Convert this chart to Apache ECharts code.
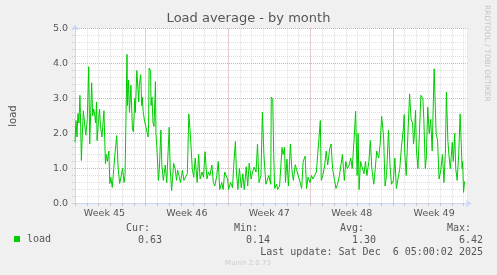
<!DOCTYPE html>
<html>
<head>
<meta charset="utf-8">
<script src="https://cdn.jsdelivr.net/npm/echarts@6/dist/echarts.min.js"></script>
<style>
html,body{margin:0;padding:0;background:#f0f0f0;}
#chart{width:497px;height:275px;}
</style>
</head>
<body>
<div id="chart"></div>
<script>
// Time in hours since Mon Nov 3 2025 00:00, load values
const hours = [24,26,28,30,32,34,35,37,39,41,43,46,49,52,54,56,58,60,62,64,66,68,69,72,74,76,79,83,86,88,90,93,95,97,100,103,106,109,112,115,118,121,124,126,
130,131,133,135,138,141,143,146,147,150,153,154,155,158,160,161,163,166,169,173,174,175,178,179,181,183,185,188,189,191,194,196,199,201,204,208,211,216,218,221,225,228,231,233,236,239,243,246,249,253,
256,259,263,266,269,273,276,279,283,286,289,293,296,299,303,306,309,313,316,319,323,326,329,333,335,337,341,345,348,351,353,356,359,363,366,369,373,376,379,383,386,389,393,396,399,403,
406,409,413,416,419,423,424,427,429,431,435,437,441,443,446,448,451,453,456,459,463,466,469,473,476,479,483,486,489,493,496,499,503,506,509,513,516,519,524,526,529,533,536,539,543,546,549,553,556,559,563,566,569,573,576,579,583,586,589,593,596,599,601,603,606,609,613,616,619,623,626,629,633,636,639,643,646,649,653,656,659,663,666,669,
673,676,679,683,686,689,693,695,696,699,703,706,708,709,712,714,716,718,720,723,726,729,733,735,738,740,743,746,749,752,756,758,760,763,766,769,773,776,779,781,784,786,789,793,795,798,800,803,806,809,813,814,816,818];
const load = [1.75,2.37,1.9,2.57,2.3,3.09,2.6,1.23,2.0,2.65,2.7,1.95,2.4,3.91,1.7,2.6,3.45,2.5,2.7,2.55,2.3,2.9,1.8,2.4,2.7,2.2,1.9,2.65,1.14,1.4,1.2,1.5,0.57,0.75,0.46,1.0,1.5,1.94,1.0,0.57,0.6,1.0,0.6,0.8,
4.26,2.8,3.53,2.6,3.38,2.13,2.05,3.0,2.6,3.8,3.75,2.9,3.37,3.68,2.8,3.04,2.62,2.34,2.3,1.9,2.3,3.87,3.8,2.8,3.04,2.3,2.2,3.48,2.0,1.57,0.66,1.0,2.1,1.1,0.66,1.1,0.6,2.18,1.0,0.37,1.15,1.0,0.66,0.95,0.8,0.6,0.95,0.66,0.7,0.85,
2.56,2.0,1.0,0.75,1.3,0.6,1.4,0.7,0.9,0.75,1.48,0.7,0.9,0.8,1.1,0.6,0.5,0.8,1.2,0.4,0.6,0.4,0.9,0.85,0.7,0.4,0.6,0.45,1.2,1.77,0.9,0.4,1.0,0.45,0.85,0.4,1.05,0.5,1.15,0.7,0.9,1.04,0.9,1.7,0.6,0.8,
2.61,1.4,0.55,0.5,0.8,0.55,3.04,2.98,1.4,0.43,0.55,0.4,0.5,0.45,1.6,1.4,1.6,0.6,1.27,0.5,1.7,0.97,0.66,1.11,0.95,0.9,0.6,0.43,1.2,1.35,0.43,0.75,0.6,0.8,0.7,0.66,0.9,0.95,2.37,0.66,0.8,1.1,1.5,1.1,1.56,1.7,1.0,0.66,0.43,0.55,0.8,0.8,1.4,0.66,1.2,1.0,1.1,1.3,1.0,1.85,2.64,0.8,2.0,0.4,1.2,1.15,0.85,1.2,0.8,1.2,1.8,1.0,0.55,1.0,1.5,1.3,1.7,2.49,1.9,0.5,0.8,2.1,1.1,0.55,
0.66,1.3,0.43,0.4,1.0,1.56,2.1,2.54,1.5,0.8,0.75,3.13,3.18,2.4,2.3,1.7,2.0,2.66,1.5,1.0,2.0,3.09,3.0,2.4,1.0,1.3,2.75,2.0,2.4,1.5,3.85,3.8,2.0,1.8,0.7,0.9,1.4,0.6,1.5,3.18,1.8,1.4,1.0,1.75,1.2,2.0,1.0,0.66,1.4,2.56,1.0,1.2,0.32,0.63];

const weekLabels = ['Week 45','Week 46','Week 47','Week 48','Week 49'];
const weekLabelHours = [84,252,420,588,756];
const weekStartHours = [168,336,504,672];
const majorLoadLines = [1,2,3,4,5];
const yTickLabels = ['0.0','1.0','2.0','3.0','4.0','5.0'];
const seriesName = 'load';
const statHeads = ['Cur:','Min:','Avg:','Max:'];
const statValues = ['0.63','0.14','1.30','6.42'];
const lastUpdate = 'Last update: Sat Dec  6 05:00:02 2025';
const titleText = 'Load average - by month';
const sideText = 'RRDTOOL / TOBI OETIKER';
const footerText = 'Munin 2.0.73';

const FONT = 'DejaVu Sans';
const MONO = 'DejaVu Sans Mono';
const TXT = '#555555';
const MINOR = '#dedede';
const MAJOR = 'rgba(220,130,130,0.55)';
const AXIS = '#cfd6f8';

const chart = echarts.init(document.getElementById('chart'), null, {renderer: 'canvas'});

const data = hours.map((h, i) => [h, load[i]]);
const valueRight = [162, 270, 376, 483];

const graphics = [];
statHeads.forEach((s, i) => {
  graphics.push({type: 'text', x: valueRight[i] - 12, y: 228, style: {text: s, align: 'right', verticalAlign: 'middle', font: '10px "' + MONO + '"', fill: TXT}});
  graphics.push({type: 'text', x: valueRight[i], y: 240, style: {text: statValues[i], align: 'right', verticalAlign: 'middle', font: '10px "' + MONO + '"', fill: TXT}});
});
graphics.push({type: 'text', x: 483, y: 252, style: {text: lastUpdate, align: 'right', verticalAlign: 'middle', font: '10px "' + MONO + '"', fill: TXT}});
graphics.push({type: 'text', x: 487, y: 5, rotation: -Math.PI / 2, style: {text: sideText, align: 'left', verticalAlign: 'middle', font: '7.5px "' + FONT + '"', fill: '#c4c4c4'}});
graphics.push({type: 'text', x: 248, y: 263, style: {text: footerText, align: 'center', verticalAlign: 'middle', font: '7px "' + FONT + '"', fill: '#cccccc'}});

const option = {
  backgroundColor: '#f0f0f0',
  animation: false,
  title: {
    text: titleText, left: 'center', top: 12.5, padding: 0,
    textStyle: {fontFamily: FONT, fontSize: 13, fontWeight: 'normal', color: TXT}
  },
  legend: {
    data: [seriesName], left: 14, top: 234, icon: 'rect', itemWidth: 6, itemHeight: 6,
    padding: 0, selectedMode: false,
    textStyle: {fontFamily: MONO, fontSize: 10, color: TXT, padding: [0, 0, 0, 2]}
  },
  grid: {left: 67.5, right: 29.5, top: 28.5, bottom: 71.5, containLabel: false, show: true, backgroundColor: '#ffffff', borderWidth: 0},
  xAxis: {
    type: 'value', min: 24, max: 824, interval: 24,
    axisLine: {show: true, lineStyle: {color: AXIS, width: 1}, symbol: ['none', 'arrow'], symbolSize: [6, 6], symbolOffset: [0, 4]},
    axisTick: {show: true, length: 2, lineStyle: {color: '#bbbbbb'}},
    axisLabel: {
      show: true, customValues: weekLabelHours, margin: 5,
      fontFamily: FONT, fontSize: 9.5, color: TXT,
      formatter: v => { const i = weekLabelHours.indexOf(Math.round(v)); return i >= 0 ? weekLabels[i] : ''; }
    },
    splitLine: {show: true, lineStyle: {color: MINOR, type: [1, 1], width: 1}}
  },
  yAxis: {
    type: 'value', min: 0, max: 5, interval: 0.2,
    name: 'load', nameLocation: 'middle', nameRotate: 90, nameGap: 57,
    nameTextStyle: {fontFamily: FONT, fontSize: 10, color: TXT},
    axisLine: {show: true, lineStyle: {color: AXIS, width: 1}, symbol: ['none', 'arrow'], symbolSize: [6, 6], symbolOffset: [0, 4]},
    axisTick: {show: true, length: 3, lineStyle: {color: '#cccccc', type: [1, 1]}},
    axisLabel: {
      margin: 7, fontFamily: FONT, fontSize: 9.5, color: TXT,
      formatter: v => { const r = Math.round(v); return Math.abs(v - r) < 1e-6 ? yTickLabels[r] : ''; }
    },
    splitLine: {show: true, lineStyle: {color: MINOR, type: [1, 1], width: 1}}
  },
  series: [{
    name: seriesName, type: 'line', data: data, showSymbol: false, symbol: 'none',
    itemStyle: {color: '#00cc00'},
    lineStyle: {color: '#00cc00', width: 1}, z: 3,
    markLine: {
      silent: true, symbol: ['none', 'none'], z: 1, animation: false,
      label: {show: false},
      lineStyle: {color: MAJOR, type: [1, 1], width: 1},
      emphasis: {disabled: true},
      data: weekStartHours.map(h => ({xAxis: h})).concat(majorLoadLines.map(v => ({yAxis: v})))
    }
  }],
  graphic: graphics
};
chart.setOption(option);
</script>
</body>
</html>
